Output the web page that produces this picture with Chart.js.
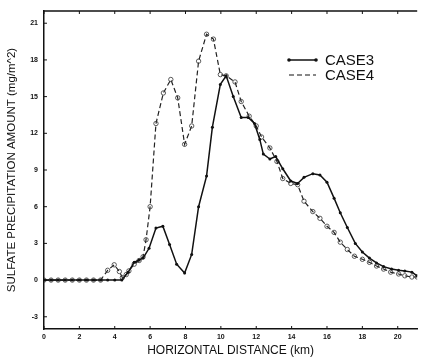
<html>
<head>
<meta charset="UTF-8">
<title>Sulfate precipitation</title>
<script src="https://cdn.jsdelivr.net/npm/chart.js@4.4.1/dist/chart.umd.min.js"></script>
<style>
body{margin:0;background:#fff;}
#wrap{position:relative;width:422px;height:358px;}
</style>
</head>
<body>
<div id="wrap"><canvas id="myChart" width="422" height="358"></canvas></div>
<script>
// values (km, mg/m^2)
var case3X = [0,0.4,0.8,1.2,1.6,2.0,2.4,2.8,3.2,3.6,4.0,4.4,4.76,5.1,5.38,5.6,5.94,6.33,6.72,7.1,7.5,7.95,8.35,8.74,9.19,9.52,9.97,10.3,10.7,11.15,11.55,11.9,12.2,12.4,12.77,13.1,13.5,13.95,14.34,14.7,15.2,15.6,16.0,16.4,16.75,17.15,17.6,18.0,18.4,18.8,19.2,19.65,20.05,20.4,20.8,21.1];
var case3Y = [0,0,0,0,0,0,0,0,0,0,0,0,0.65,1.45,1.65,1.8,2.6,4.25,4.4,2.9,1.3,0.57,2.1,6.0,8.5,12.5,16.0,16.7,15.0,13.3,13.3,12.8,11.5,10.3,9.9,10.1,9.1,8.1,7.9,8.4,8.7,8.6,8.0,6.7,5.5,4.3,3.0,2.3,1.8,1.4,1.1,0.9,0.8,0.75,0.65,0.35];
var case4X = [0,0.4,0.8,1.2,1.6,2.0,2.4,2.8,3.2,3.6,3.97,4.26,4.43,4.65,4.8,5.1,5.38,5.6,5.77,6.0,6.33,6.75,7.17,7.56,7.95,8.35,8.74,9.19,9.58,9.97,10.3,10.8,11.15,11.6,12.0,12.3,12.77,13.17,13.5,13.95,14.34,14.7,15.2,15.6,16.0,16.4,16.75,17.15,17.55,18.0,18.4,18.8,19.2,19.6,20.05,20.4,20.8,21.1];
var case4Y = [0,0,0,0,0,0,0,0,0,0.8,1.25,0.7,0.2,0.45,0.75,1.3,1.6,1.9,3.3,6.0,12.8,15.3,16.4,14.9,11.1,12.6,17.9,20.1,19.7,16.8,16.7,16.2,14.6,13.4,12.6,11.7,10.8,9.7,8.3,7.9,7.8,6.45,5.6,5.05,4.4,3.9,3.1,2.5,1.95,1.7,1.45,1.15,0.9,0.65,0.5,0.35,0.25,0.25];
var xTicks = [0,2,4,6,8,10,12,14,16,18,20];
var yTicks = [-3,0,3,6,9,12,15,18,21];
var seriesNames = ["CASE3","CASE4"];

var fn_points = function(xs, ys){
	var out = [];
	for (var i = 0; i < xs.length; i++){
		out.push({x: xs[i], y: ys[i]});
	}
	return out;
}

// frame top line, inward ticks and the legend
var framePlugin = {
	id: "frame",
	afterDraw: function(chart){
		var ctx = chart.ctx;
		var a = chart.chartArea;
		var sx = chart.scales.x, sy = chart.scales.y;
		ctx.save();
		ctx.strokeStyle = "#111";
		ctx.lineWidth = 1.5;
		ctx.beginPath();
		ctx.moveTo(a.left, a.top);
		ctx.lineTo(a.right, a.top);
		ctx.stroke();
		ctx.lineWidth = 1;
		ctx.beginPath();
		xTicks.forEach(function(v){
			var px = sx.getPixelForValue(v);
			ctx.moveTo(px, a.bottom); ctx.lineTo(px, a.bottom - 3);
			ctx.moveTo(px, a.top); ctx.lineTo(px, a.top + 3);
		});
		yTicks.forEach(function(v){
			var py = sy.getPixelForValue(v);
			ctx.moveTo(a.left, py); ctx.lineTo(a.left + 3, py);
		});
		ctx.stroke();

		// legend
		var lx = a.left + 245, ly = a.top + 49;
		ctx.font = "15px 'Liberation Sans', Arial, sans-serif";
		ctx.fillStyle = "#111";
		ctx.textBaseline = "middle";
		ctx.lineWidth = 1.5;
		ctx.beginPath();
		ctx.moveTo(lx, ly); ctx.lineTo(lx + 27, ly);
		ctx.stroke();
		ctx.beginPath(); ctx.arc(lx, ly, 1.8, 0, Math.PI*2); ctx.fill();
		ctx.beginPath(); ctx.arc(lx + 27, ly, 1.8, 0, Math.PI*2); ctx.fill();
		ctx.fillText(seriesNames[0], lx + 36, ly + 1);
		ctx.setLineDash([5, 3]);
		ctx.lineWidth = 1.2;
		ctx.beginPath();
		ctx.moveTo(lx, ly + 15); ctx.lineTo(lx + 27, ly + 15);
		ctx.stroke();
		ctx.setLineDash([]);
		ctx.fillText(seriesNames[1], lx + 36, ly + 16);
		ctx.restore();
	}
};

var ctx = document.getElementById("myChart");
var myChart = new Chart(ctx, {
	type: "scatter",
	data: {
		datasets: [{
			label: seriesNames[0],
			data: fn_points(case3X, case3Y),
			showLine: true,
			borderColor: "#111",
			borderWidth: 1.5,
			pointRadius: 1.5,
			pointBackgroundColor: "#111",
			pointBorderColor: "#111",
			pointBorderWidth: 0,
			tension: 0
		},{
			label: seriesNames[1],
			data: fn_points(case4X, case4Y),
			showLine: true,
			borderColor: "#222",
			borderWidth: 1.2,
			borderDash: [5, 3],
			pointRadius: 2.2,
			pointBackgroundColor: "rgba(255,255,255,0)",
			pointBorderColor: "#333",
			pointBorderWidth: 0.8,
			tension: 0
		}]
	},
	options: {
		responsive: false,
		animation: false,
		layout: {padding: {top: 11, right: 1, left: 0, bottom: 0}},
		plugins: {legend: {display: false}, tooltip: {enabled: false}},
		scales: {
			x: {
				type: "linear",
				min: 0,
				max: 21.1,
				afterFit: function(scale){ scale.height = 29; },
				afterBuildTicks: function(scale){ scale.ticks = xTicks.map(function(v){ return {value: v}; }); },
				grid: {display: false, drawTicks: false},
				border: {display: true, color: "#111", width: 1.5},
				ticks: {color: "#111", padding: 4, maxRotation: 0, autoSkip: false,
					font: {size: 7, weight: "bold", family: "'Liberation Sans', Arial, sans-serif"}},
				title: {display: true, text: "HORIZONTAL DISTANCE (km)", color: "#111", padding: {top: 0, bottom: 0},
					font: {size: 12, family: "'Liberation Sans', Arial, sans-serif"}}
			},
			y: {
				type: "linear",
				min: -4,
				max: 22,
				afterFit: function(scale){ scale.width = 44; },
				afterBuildTicks: function(scale){ scale.ticks = yTicks.map(function(v){ return {value: v}; }); },
				grid: {display: false, drawTicks: false},
				border: {display: true, color: "#111", width: 1.5},
				ticks: {color: "#111", padding: 6, autoSkip: false,
					font: {size: 7, weight: "bold", family: "'Liberation Sans', Arial, sans-serif"}},
				title: {display: true, text: "SULFATE PRECIPITATION AMOUNT (mg/m^2)", color: "#111", padding: {top: 5, bottom: 0},
					font: {size: 11.5, family: "'Liberation Sans', Arial, sans-serif"}}
			}
		}
	},
	plugins: [framePlugin]
});
</script>
</body>
</html>
